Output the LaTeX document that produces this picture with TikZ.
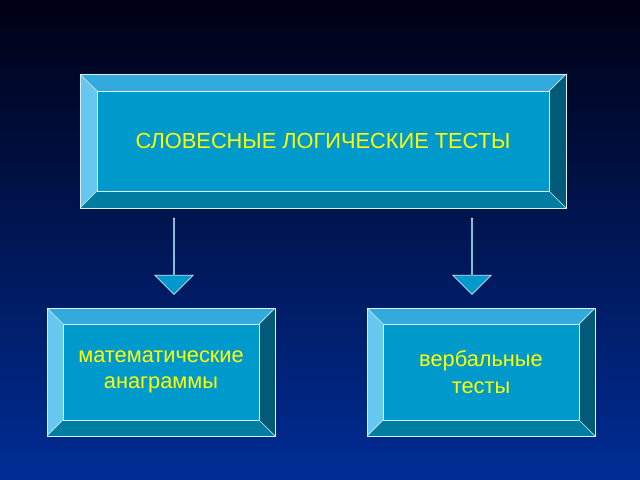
\documentclass[tikz,border=0pt]{standalone}
\usepackage{fontspec}
\setmainfont{Liberation Sans}
\usetikzlibrary{positioning,shapes.arrows}
\definecolor{bgtop}{RGB}{0,0,20}
\definecolor{bgbot}{RGB}{0,45,150}
\definecolor{face}{RGB}{0,153,204}
\definecolor{bvtop}{RGB}{51,170,221}
\definecolor{bvleft}{RGB}{102,200,238}
\definecolor{bvright}{RGB}{0,90,120}
\definecolor{bvbot}{RGB}{0,125,160}
\definecolor{txt}{RGB}{255,255,0}
% bevelled box: name, x1, y1, x2, y2, depth, text
\newcommand{\bevelbox}[7]{%
  \fill[bvtop] (#2,#3) -- (#4,#3) -- (#4-#6,#3+#6) -- (#2+#6,#3+#6) -- cycle;
  \fill[bvleft] (#2,#3) -- (#2+#6,#3+#6) -- (#2+#6,#5-#6) -- (#2,#5) -- cycle;
  \fill[bvright] (#4,#3) -- (#4,#5) -- (#4-#6,#5-#6) -- (#4-#6,#3+#6) -- cycle;
  \fill[bvbot] (#2,#5) -- (#4,#5) -- (#4-#6,#5-#6) -- (#2+#6,#5-#6) -- cycle;
  \draw[edge] (#2,#3) rectangle (#4,#5);
  \draw[edge] (#2,#3) -- (#2+#6,#3+#6) (#4,#3) -- (#4-#6,#3+#6)
              (#2,#5) -- (#2+#6,#5-#6) (#4,#5) -- (#4-#6,#5-#6);
  \node[boxface, minimum width={(#4-#2-2*#6)*0.025cm}, minimum height={(#5-#3-2*#6)*0.025cm}]
    (#1) at ({(#2+#4)/2},{(#3+#5)/2}) {#7};
}
\begin{document}
\begin{tikzpicture}[x=0.025cm, y=-0.025cm,
  edge/.style={draw=white!85!face, line width=0.5pt},
  boxface/.style={fill=face, draw=white!85!face, line width=0.5pt, text=txt,
    font=\fontsize{15.5}{19}\selectfont, align=center, inner sep=0pt},
  blockarrow/.style={single arrow, fill=face, draw=white!80!face, line width=0.5pt,
    minimum width=38*0.025cm, single arrow head extend=10*0.025cm,
    single arrow tip angle=90, minimum height=76*0.025cm, inner sep=0pt,
    shape border rotate=270}
  ]
  \shade[top color=bgtop, bottom color=bgbot] (0,0) rectangle (640,480);
  \bevelbox{title}{80}{74}{566}{208}{17}{СЛОВЕСНЫЕ ЛОГИЧЕСКИЕ ТЕСТЫ}
  \bevelbox{math}{47}{308}{275}{436}{16}{математические\\анаграммы}
  \bevelbox{verb}{367}{308}{595}{436}{16}{вербальные\\тесты}
  % arrows
  \node[blockarrow] (arrl) at (174,256) {};
  \node[blockarrow] (arrr) at (472,256) {};
\end{tikzpicture}
\end{document}
